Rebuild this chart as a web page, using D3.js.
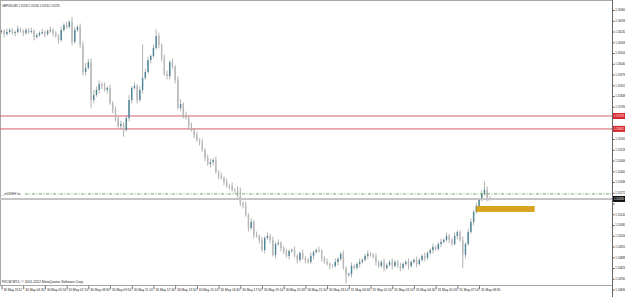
<!DOCTYPE html>
<html>
<head>
<meta charset="utf-8">
<script src="https://cdn.jsdelivr.net/npm/d3@7"></script>
<style>
  body { margin: 0; background: #fff; }
  svg { display: block; }
</style>
</head>
<body>
<div id="chart"></div>
<script>
// chart texts
const titleText = "GBPUSD,M5  1.55234 1.55246 1.55230 1.55235";
const copyrightText = "FXCM MT4, \u00a9 2001-2012 MetaQuotes Software Corp.";

// closes, one per bar (10 min apart)
const firstOpen = 1.56229;
const closes = [
  1.56235, 1.56217, 1.56229, 1.56241, 1.56223, 1.56229, 1.56247, 1.56235, 1.56223, 1.56241,
  1.56229, 1.56235, 1.56199, 1.56211, 1.56223, 1.56229, 1.56217, 1.56235, 1.56241, 1.56223,
  1.56205, 1.56181, 1.56241, 1.56271, 1.56259, 1.56289, 1.56170, 1.56241, 1.56259, 1.56152,
  1.55991, 1.56015, 1.56050, 1.55824, 1.55854, 1.55884, 1.55919, 1.55908, 1.55884, 1.55896,
  1.55806, 1.55765, 1.55717, 1.55669, 1.55681, 1.55646, 1.55717, 1.55824, 1.55896, 1.55908,
  1.55824, 1.55884, 1.55955, 1.55991, 1.56062, 1.56086, 1.56134, 1.56205, 1.56152, 1.56074,
  1.55979, 1.55967, 1.56050, 1.56021, 1.55943, 1.55777, 1.55800, 1.55735, 1.55717, 1.55669,
  1.55646, 1.55616, 1.55586, 1.55574, 1.55527, 1.55479, 1.55443, 1.55455, 1.55467, 1.55396,
  1.55372, 1.55360, 1.55336, 1.55312, 1.55312, 1.55289, 1.55289, 1.55253, 1.55211, 1.55199,
  1.55140, 1.55062, 1.55098, 1.55021, 1.55015, 1.54991, 1.54931, 1.55003, 1.55015, 1.54991,
  1.54902, 1.54967, 1.54973, 1.54943, 1.54919, 1.54896, 1.54925, 1.54931, 1.54896, 1.54872,
  1.54913, 1.54884, 1.54872, 1.54860, 1.54896, 1.54919, 1.54931, 1.54925, 1.54884, 1.54860,
  1.54848, 1.54836, 1.54836, 1.54860, 1.54878, 1.54908, 1.54824, 1.54782, 1.54788, 1.54836,
  1.54824, 1.54848, 1.54860, 1.54872, 1.54896, 1.54908, 1.54902, 1.54890, 1.54860, 1.54836,
  1.54860, 1.54824, 1.54842, 1.54860, 1.54836, 1.54860, 1.54836, 1.54824, 1.54848, 1.54860,
  1.54836, 1.54860, 1.54872, 1.54848, 1.54872, 1.54896, 1.54884, 1.54913, 1.54931, 1.54949,
  1.54937, 1.54967, 1.54979, 1.54991, 1.55015, 1.54991, 1.54967, 1.55015, 1.55038, 1.54991,
  1.54902, 1.54967, 1.55038, 1.55098, 1.55158, 1.55193, 1.55229, 1.55265, 1.55289, 1.55241,
  1.55235
];
// wick lengths above / below the body, in pips
const upWick = [
  1,1,2,1,1,1,2,1,1,1, 1,2,1,1,1,2,1,1,2,1, 1,1,2,1,2,1,3,2,1,2,
  2,3,2,2,3,2,2,1,2,1, 2,1,2,1,2,1,2,3,1,2, 1,2,20,2,2,1,2,4,2,1,
  2,2,1,2,1,2,3,1,2,1, 2,1,2,1,2,1,2,2,1,2, 1,2,1,2,1,2,1,2,5,1,
  2,1,2,1,2,1,2,1,2,1, 2,1,2,1,1,2,1,1,2,1, 1,2,1,1,2,1,1,2,1,1,
  2,1,1,2,1,1,2,1,1,2, 1,1,2,1,1,2,1,1,2,1, 1,2,1,1,2,1,1,2,1,1,
  2,1,1,2,1,1,2,1,1,2, 1,1,2,1,2,1,1,2,1,1, 2,1,2,2,1,2,1,2,5,2,
  1
];
const dnWick = [
  1,2,1,1,1,2,1,1,2,1, 1,1,2,1,1,1,2,1,1,2, 1,2,1,1,1,1,2,1,1,2,
  2,2,1,5,2,1,2,2,1,2, 1,2,2,1,2,4,1,2,2,1, 2,1,2,1,1,2,1,1,2,2,
  1,2,2,1,2,1,2,2,1,2, 1,2,1,2,1,2,1,2,2,1, 2,1,2,1,2,1,2,1,2,2,
  1,2,1,2,1,2,1,2,1,2, 1,2,1,2,1,1,2,1,1,2, 1,1,2,1,1,2,1,1,2,1,
  1,2,1,1,2,1,1,5,1,2, 1,1,2,1,1,2,1,1,2,1, 1,2,1,1,2,1,1,2,1,1,
  2,1,1,2,1,1,2,1,1,2, 1,1,2,1,1,2,1,1,2,1, 8,2,1,1,2,1,1,1,1,2,
  1
];

// axes
const priceTicks = [
  1.56360, 1.56296, 1.56232, 1.56168, 1.56104, 1.56040, 1.55976, 1.55912, 1.55848,
  1.55784, 1.55720, 1.55656, 1.55592, 1.55528, 1.55464, 1.55400, 1.55336, 1.55272,
  1.55208, 1.55144, 1.55080, 1.55016, 1.54952, 1.54888, 1.54824, 1.54760, 1.54696
];
const timeLabels = [
  "30 May 2012", "30 May 04:30", "30 May 05:50", "30 May 07:10", "30 May 08:30",
  "30 May 09:50", "30 May 11:10", "30 May 12:30", "30 May 13:50", "30 May 15:10",
  "30 May 16:30", "30 May 17:50", "30 May 19:10", "30 May 20:30", "30 May 21:50",
  "30 May 23:10", "31 May 00:30", "31 May 01:50", "31 May 03:10", "31 May 04:30",
  "31 May 05:50", "31 May 07:10", "31 May 08:30"
];
const barsPerLabel = 8;

// objects on the chart
const redLevels = [1.55729, 1.55652];
const greenLevel = 1.55265;
const greenLevelName = "_st0f5BH lvc";
const zoneBars = [175, 196.5];
const zonePrices = [1.55193, 1.55158];

const width = 625, height = 297;
const plotRight = 612, plotBottom = 285;
const font = "'Liberation Sans', Arial, sans-serif";

const svg = d3.select("#chart").append("svg")
  .attr("width", width).attr("height", height)
  .attr("font-family", font);

const x = d3.scaleLinear().domain([0, 225]).range([1.5, plotRight]);
const y = d3.scaleLinear().domain([priceTicks[0], priceTicks[priceTicks.length - 1]]).range([10, 289.5]);

const bars = closes.map((c, i) => {
  const o = i === 0 ? firstOpen : closes[i - 1];
  return {
    i, o, c,
    h: Math.max(o, c) + upWick[i] * 0.0001,
    l: Math.min(o, c) - dnWick[i] * 0.0001
  };
});

const plot = svg.append("g");

// frame
plot.append("rect")
  .attr("x", 0.5).attr("y", 0.5)
  .attr("width", plotRight).attr("height", plotBottom)
  .attr("fill", "none").attr("stroke", "#a8a8a8");

// red horizontal levels
plot.selectAll(".red").data(redLevels).join("line")
  .attr("x1", 0).attr("x2", plotRight)
  .attr("y1", d => y(d)).attr("y2", d => y(d))
  .attr("stroke", "#d0606a").attr("stroke-width", 1);

// candles
const candle = plot.append("g").selectAll("g").data(bars).join("g");
candle.append("line")
  .attr("x1", d => x(d.i)).attr("x2", d => x(d.i))
  .attr("y1", d => y(d.h)).attr("y2", d => y(d.l))
  .attr("stroke", "#a8a8a8").attr("stroke-width", 0.9);
candle.append("rect")
  .attr("x", d => x(d.i) - 0.7)
  .attr("width", 1.4)
  .attr("y", d => y(Math.max(d.o, d.c)))
  .attr("height", d => Math.max(0.6, Math.abs(y(d.o) - y(d.c))))
  .attr("fill", d => d.c > d.o ? "#4a8496" : "#b8b8b8");

// bid line
const last = bars[bars.length - 1];
plot.append("line")
  .attr("x1", 0).attr("x2", plotRight)
  .attr("y1", y(last.c)).attr("y2", y(last.c))
  .attr("stroke", "#c4c4c4").attr("stroke-width", 2);

// green level
plot.append("line")
  .attr("x1", 25).attr("x2", plotRight)
  .attr("y1", y(greenLevel)).attr("y2", y(greenLevel))
  .attr("stroke", "#3f9a3f").attr("stroke-width", 0.8)
  .attr("stroke-dasharray", "3,1.5,1,1.5");
plot.append("text")
  .attr("x", 2).attr("y", y(greenLevel) + 1)
  .attr("font-size", 3.4).attr("fill", "#333")
  .text(greenLevelName);

// orange zone
plot.append("rect")
  .attr("x", x(zoneBars[0])).attr("width", x(zoneBars[1]) - x(zoneBars[0]))
  .attr("y", y(zonePrices[0])).attr("height", y(zonePrices[1]) - y(zonePrices[0]))
  .attr("fill", "#d9a21f");

// price axis
const fmt = d3.format(".5f");
const covered = p => [...redLevels, last.c].some(q => Math.abs(y(q) - y(p)) < 5);
const yAxis = svg.append("g")
  .attr("transform", `translate(${plotRight + 0.5},0)`)
  .call(d3.axisRight(y).tickValues(priceTicks).tickFormat(fmt).tickSize(2).tickPadding(0.8));
yAxis.select(".domain").remove();
yAxis.selectAll("line").attr("stroke", "#555");
yAxis.selectAll("text").attr("font-size", 2.8).attr("font-family", font).attr("fill", "#222")
  .attr("opacity", d => covered(d) ? 0 : 1);
svg.append("line")
  .attr("x1", plotRight + 0.5).attr("x2", plotRight + 0.5)
  .attr("y1", 0).attr("y2", height)
  .attr("stroke", "#666");

// time axis
const xAxis = svg.append("g")
  .attr("transform", `translate(0,${plotBottom + 0.5})`)
  .call(d3.axisBottom(x)
    .tickValues(timeLabels.map((_, k) => k * barsPerLabel))
    .tickFormat((_, k) => timeLabels[k])
    .tickSize(4).tickPadding(1));
xAxis.select(".domain").remove();
xAxis.selectAll("line").attr("stroke", "#777");
xAxis.selectAll("text")
  .attr("text-anchor", "start").attr("dx", 1.5).attr("dy", "0.2em")
  .attr("font-size", 3.2).attr("font-family", font).attr("fill", "#222");

// price flags on the axis
const flag = (price, bg) => {
  const g = svg.append("g").attr("transform", `translate(${plotRight + 1},${y(price)})`);
  g.append("rect").attr("x", 0).attr("y", -3).attr("width", 12).attr("height", 6).attr("fill", bg);
  g.append("text").attr("x", 1).attr("y", 1.1)
    .attr("font-size", 2.8).attr("fill", "#fff").text(fmt(price));
};
redLevels.forEach(p => flag(p, "#d8262e"));
flag(last.c, "#111");

// title and copyright
svg.append("text").attr("x", 2).attr("y", 7)
  .attr("font-size", 2.7).attr("fill", "#222").text(titleText);
svg.append("text").attr("x", 2).attr("y", 283)
  .attr("font-size", 3.4).attr("fill", "#222").text(copyrightText);
</script>
</body>
</html>
